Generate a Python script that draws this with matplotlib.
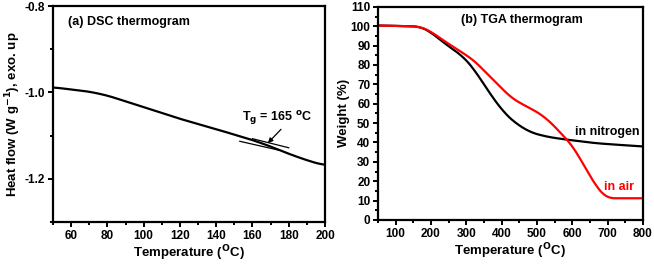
import numpy as np
import matplotlib.pyplot as plt
from matplotlib.ticker import MultipleLocator

plt.rcParams['font.family'] = ['Liberation Sans', 'DejaVu Sans']
plt.rcParams['font.weight'] = 'bold'
plt.rcParams['axes.unicode_minus'] = False
plt.rcParams['mathtext.default'] = 'regular'

# DSC (a)
dsc_temp = [50, 70, 80, 100, 120, 140, 160, 170, 180, 190, 199]
dsc_flow = [-0.988, -0.998, -1.007, -1.034, -1.061, -1.085, -1.110, -1.125,
            -1.142, -1.157, -1.168]
tang_up_t = [160, 180]
tang_up_y = [-1.107, -1.128]
tang_lo_t = [153, 175]
tang_lo_y = [-1.113, -1.134]

# TGA (b)
n2_temp = [50, 169, 197, 244, 291, 320, 348, 376, 405, 433, 480, 527, 574, 668, 800]
n2_w = [100.4, 99.9, 97.3, 90.4, 84.4, 78.3, 70.6, 62.8, 55.9, 50.8, 45.3, 43.0,
        41.7, 39.6, 37.9]
air_temp = [50, 169, 197, 244, 291, 320, 348, 386, 423, 452, 490, 527, 555, 603,
            640, 678, 697, 800]
air_w = [100.4, 99.9, 97.6, 91.6, 86.1, 82.7, 77.5, 70.6, 63.7, 60.3, 56.9, 52.5,
         47.3, 37.9, 25.8, 14.6, 11.2, 11.2]


def smooth(x, y, n=300):
    xs = np.linspace(x[0], x[-1], n)
    ys = np.interp(xs, x, y)
    k = 9
    pad = np.pad(ys, k, mode='edge')
    ys = np.convolve(pad, np.ones(2 * k + 1) / (2 * k + 1), mode='same')[k:-k]
    return xs, ys


def style(ax):
    for s in ax.spines.values():
        s.set_linewidth(1.6)
    ax.tick_params(which='both', direction='out', width=1.4, labelsize=8.5,
                   pad=2, top=False, right=False)
    ax.tick_params(which='major', length=3.5)
    ax.tick_params(which='minor', length=2.5)


fig = plt.figure(figsize=(6.54, 2.65), dpi=100)

ax1 = fig.add_axes([0.081, 0.162, 0.416, 0.815])
x, y = smooth(dsc_temp, dsc_flow)
ax1.plot(x, y, color='black', lw=1.6)
ax1.plot(tang_up_t, tang_up_y, color='black', lw=0.9)
ax1.plot(tang_lo_t, tang_lo_y, color='black', lw=0.9)
ax1.annotate(r'T$_\mathbf{g}$ = 165 $^\mathbf{o}$C', xy=(168.5, -1.117),
             xytext=(154, -1.058), fontsize=9, fontweight='bold', va='center',
             arrowprops=dict(arrowstyle='-|>', color='black', lw=0.9,
                             mutation_scale=7, shrinkA=0, shrinkB=0,
                             relpos=(0.6, 0)))
ax1.set_xlim(50, 200)
ax1.set_ylim(-1.3, -0.8)
ax1.xaxis.set_minor_locator(MultipleLocator(10))
ax1.yaxis.set_minor_locator(MultipleLocator(0.1))
ax1.set_xticks([60, 80, 100, 120, 140, 160, 180, 200])
ax1.set_yticks([-1.2, -1.0, -0.8])
ax1.set_xlabel(r'Temperature ($^\mathbf{O}$C)', fontsize=9.5, fontweight='bold', labelpad=1)
ax1.set_ylabel(r'Heat flow (W g$^\mathbf{-1}$), exo. up', fontsize=9.5, fontweight='bold', labelpad=1)
ax1.text(0.055, 0.955, '(a) DSC thermogram', transform=ax1.transAxes,
         fontsize=9, fontweight='bold', va='top')
style(ax1)

ax2 = fig.add_axes([0.578, 0.170, 0.405, 0.804])
x, y = smooth(n2_temp, n2_w)
ax2.plot(x, y, color='black', lw=1.6)
x, y = smooth(air_temp, air_w)
ax2.plot(x, y, color='#ff0000', lw=1.6)
ax2.set_xlim(50, 800)
ax2.set_ylim(0, 110)
ax2.set_xticks(range(100, 801, 100))
ax2.xaxis.set_minor_locator(MultipleLocator(50))
ax2.yaxis.set_major_locator(MultipleLocator(10))
ax2.yaxis.set_minor_locator(MultipleLocator(5))
ax2.set_xlabel(r'Temperature ($^\mathbf{O}$C)', fontsize=9.5, fontweight='bold', labelpad=1)
ax2.set_ylabel('Weight (%)', fontsize=9.5, fontweight='bold', labelpad=0)
ax2.text(0.542, 0.94, '(b) TGA thermogram', transform=ax2.transAxes,
         fontsize=9, fontweight='bold', ha='center', va='center')
ax2.text(607, 45.5, 'in nitrogen', fontsize=9, fontweight='bold', va='center')
ax2.text(689, 17, 'in air', fontsize=9, fontweight='bold', va='center', color='#ff0000')
style(ax2)

fig.savefig('out.png', dpi=100)
